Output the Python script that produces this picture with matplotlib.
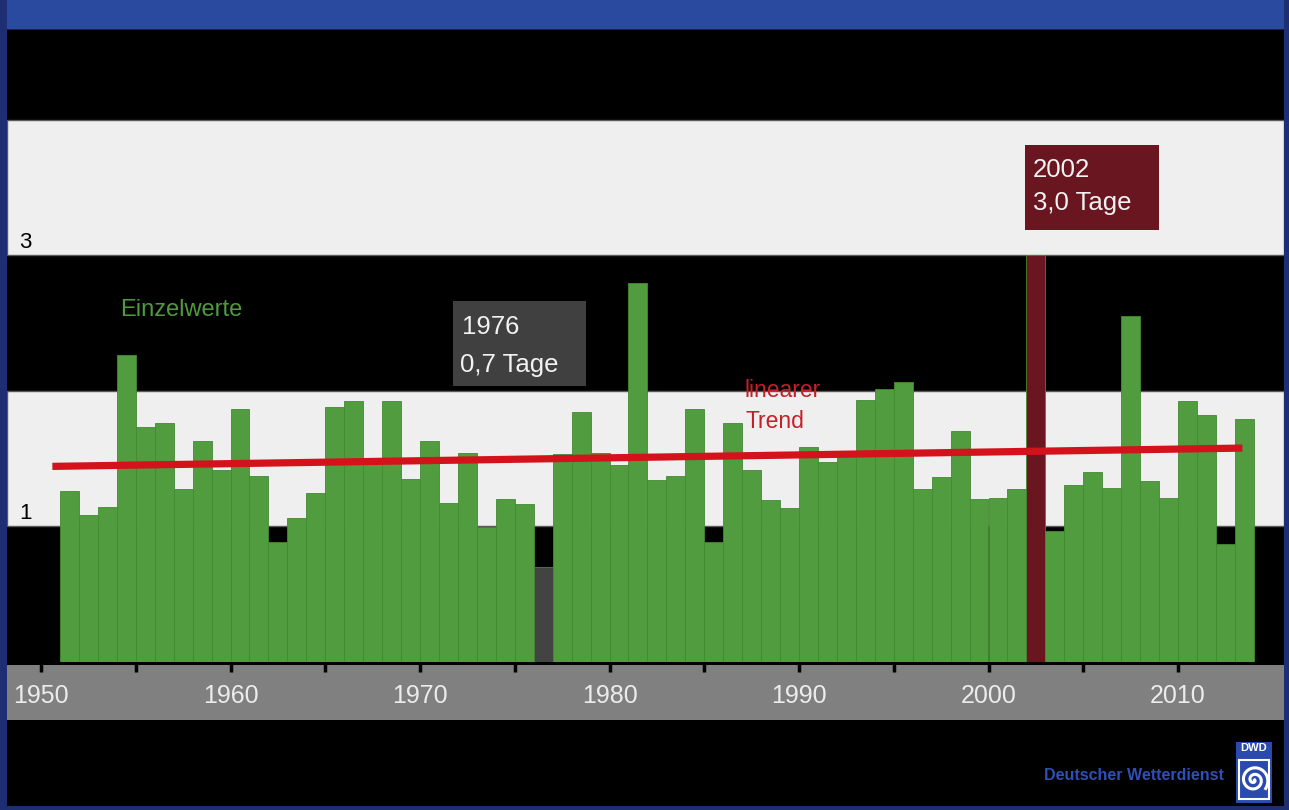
import numpy as np
import matplotlib
matplotlib.use("Agg")
import matplotlib.pyplot as plt
from matplotlib.patches import Rectangle
import matplotlib.transforms as mtransforms

# ---------------- data ----------------
years = list(range(1951, 2014))
values = [1.26, 1.08, 1.14, 2.26, 1.73, 1.76, 1.27, 1.63, 1.41, 1.86,
          1.37, 0.88, 1.06, 1.24, 1.88, 1.92, 1.47, 1.92, 1.35, 1.63,
          1.17, 1.54, 0.99, 1.20, 1.16, 0.70, 1.53, 1.84, 1.54, 1.45,
          2.79, 1.34, 1.37, 1.86, 0.88, 1.76, 1.41, 1.19, 1.13, 1.58,
          1.47, 1.51, 1.93, 2.01, 2.06, 1.27, 1.36, 1.70, 1.20, 1.21,
          1.27, 3.00, 0.96, 1.30, 1.40, 1.28, 2.55, 1.33, 1.21, 1.92,
          1.82, 0.87, 1.79]
trend_years = [1950.6, 2013.4]
trend_values = [1.44, 1.575]
dry_year, dry_label = 1976, ["1976", "0,7 Tage"]
wet_year, wet_label = 2002, ["2002", "3,0 Tage"]
xtick_years = [1950, 1960, 1970, 1980, 1990, 2000, 2010]
xtick_labels = ["1950", "1960", "1970", "1980", "1990", "2000", "2010"]
xminor_years = [1955, 1965, 1975, 1985, 1995, 2005]
ytick_values = [0, 1, 2, 3, 4]
ytick_labels = ["0", "1", "2", "3", "4"]

GREEN = "#519c3e"
GRAY_BAR = "#434343"
MAROON = "#6a1620"
RED = "#d3121c"
WHITE_BAND = "#efefef"
BLUE = "#2a4aa0"

W, H = 1289, 810
fig = plt.figure(figsize=(W / 100, H / 100), dpi=100, facecolor="black")

def fx(px):
    return px / W

def fy(py):
    return 1 - py / H

# frame / strips
fig.add_artist(Rectangle((0, fy(30)), 1, 30 / H, transform=fig.transFigure,
                         facecolor=BLUE, edgecolor="none", zorder=-2))
fig.add_artist(Rectangle((0, fy(33)), 1, 4 / H, transform=fig.transFigure,
                         facecolor="#142250", edgecolor="none", zorder=-2))
fig.add_artist(Rectangle((0, 0), fx(7), 1, transform=fig.transFigure,
                         facecolor="#1d2f72", edgecolor="none", zorder=-2))
fig.add_artist(Rectangle((fx(1284), 0), fx(5), 1, transform=fig.transFigure,
                         facecolor="#1d2f72", edgecolor="none", zorder=-2))
fig.add_artist(Rectangle((0, 0), 1, 4 / H, transform=fig.transFigure,
                         facecolor="#1d2f72", edgecolor="none", zorder=-2))
# gray axis band
fig.add_artist(Rectangle((fx(7), fy(720)), fx(1277), (720 - 665) / H,
                         transform=fig.transFigure, facecolor="#808080",
                         edgecolor="none", zorder=-1))

# ---------------- main axes ----------------
px0, px_per_year = 41.0, 18.95
def year_at(px):
    return 1950 + (px - px0) / px_per_year

ax_left, ax_right = 7, 1284
ax_top, ax_bottom = 30, 661.5
ax = fig.add_axes([fx(ax_left), fy(ax_bottom), fx(ax_right - ax_left),
                   (ax_bottom - ax_top) / H])
ax.set_facecolor("black")
ax.set_xlim(year_at(ax_left), year_at(ax_right))
ax.set_ylim(0, (ax_bottom - ax_top) / 135.5)
for s in ax.spines.values():
    s.set_visible(False)

for lo in (1, 3):
    ax.axhspan(lo, lo + 1, facecolor=WHITE_BAND, edgecolor="#5a5a5a",
               linewidth=1.0, zorder=0)

colors = []
for y in years:
    if y == dry_year:
        colors.append(GRAY_BAR)
    elif y == wet_year:
        colors.append(MAROON)
    else:
        colors.append(GREEN)
ax.bar(years, values, width=1.0, align="edge", color=colors,
       edgecolor="#448a33", linewidth=0.6, zorder=2)

ax.plot(trend_years, trend_values, color=RED, linewidth=5.2,
        solid_capstyle="butt", zorder=3)

# y labels (black, visible only on white bands)
ytrans = mtransforms.blended_transform_factory(ax.transAxes, ax.transData)
for v, lab in zip(ytick_values, ytick_labels):
    ax.text(0.019, v + 0.015, lab, transform=ytrans, ha="right", va="bottom",
            fontsize=16, color="black", family="Liberation Sans", zorder=1)

# x ticks
ax.set_yticks([])
ax.set_xticks(xtick_years)
ax.set_xticklabels(xtick_labels)
ax.set_xticks(xminor_years, minor=True)
ax.tick_params(axis="x", which="both", direction="out", length=7, width=2.5,
               color="black", pad=9, labelsize=18, labelcolor="#ececec")
for t in ax.get_xticklabels():
    t.set_family("Liberation Sans")

# annotations
fs_box = 18.5
ax.text(year_at(120), 2.55, "Einzelwerte", color="#4e9a3c", fontsize=17,
        family="Liberation Sans", ha="left", va="baseline", zorder=5)

ax.add_patch(Rectangle((year_at(453), (ax_bottom - 386) / 135.5),
                       year_at(586) - year_at(453), (386 - 300.7) / 135.5,
                       facecolor="#404040", edgecolor="none", zorder=6))
ax.text(year_at(462), (ax_bottom - 334) / 135.5, dry_label[0], color="#f2f2f2",
        fontsize=fs_box, family="Liberation Sans", ha="left", va="baseline", zorder=7)
ax.text(year_at(460), (ax_bottom - 372) / 135.5, dry_label[1], color="#f2f2f2",
        fontsize=fs_box, family="Liberation Sans", ha="left", va="baseline", zorder=7)

ax.add_patch(Rectangle((year_at(1025), (ax_bottom - 230) / 135.5),
                       year_at(1159) - year_at(1025), (230 - 145) / 135.5,
                       facecolor=MAROON, edgecolor="none", zorder=6))
ax.text(year_at(1033), (ax_bottom - 177) / 135.5, wet_label[0], color="#f2f2f2",
        fontsize=fs_box, family="Liberation Sans", ha="left", va="baseline", zorder=7)
ax.text(year_at(1033), (ax_bottom - 210) / 135.5, wet_label[1], color="#f2f2f2",
        fontsize=fs_box, family="Liberation Sans", ha="left", va="baseline", zorder=7)

ax.text(year_at(744), (ax_bottom - 397) / 135.5, "linearer", color="#c81e28",
        fontsize=16.5, family="Liberation Sans", ha="left", va="baseline", zorder=5)
ax.text(year_at(745), (ax_bottom - 428) / 135.5, "Trend", color="#c81e28",
        fontsize=16.5, family="Liberation Sans", ha="left", va="baseline", zorder=5)

# DWD logo
fig.text(fx(1224), fy(775), "Deutscher Wetterdienst", color="#2e50b8",
         fontsize=11.5, fontweight="bold", family="Liberation Sans",
         ha="right", va="center")
fig.add_artist(Rectangle((fx(1236), fy(803)), fx(36), 61 / H,
                         transform=fig.transFigure, facecolor="#2a4ab0",
                         edgecolor="none", zorder=2))
fig.text(fx(1254), fy(748), "DWD", color="white", fontsize=8, fontweight="bold",
         family="Liberation Sans", ha="center", va="center", zorder=3)
fig.add_artist(Rectangle((fx(1239), fy(799)), fx(30), 39 / H,
                         transform=fig.transFigure, facecolor="#2a4ab0",
                         edgecolor="white", linewidth=1.5, zorder=3))
th = np.linspace(0, 4.2 * np.pi, 200)
r = 1.2 + 1.9 * th
sx = 1254 + r * np.cos(th) * 0.55
sy = 780 + r * np.sin(th) * 0.55
fig.add_artist(plt.Line2D(fx(sx), fy(sy), transform=fig.transFigure,
                          color="white", linewidth=2.2, zorder=4))

fig.savefig("out.png", dpi=100, facecolor="black")
